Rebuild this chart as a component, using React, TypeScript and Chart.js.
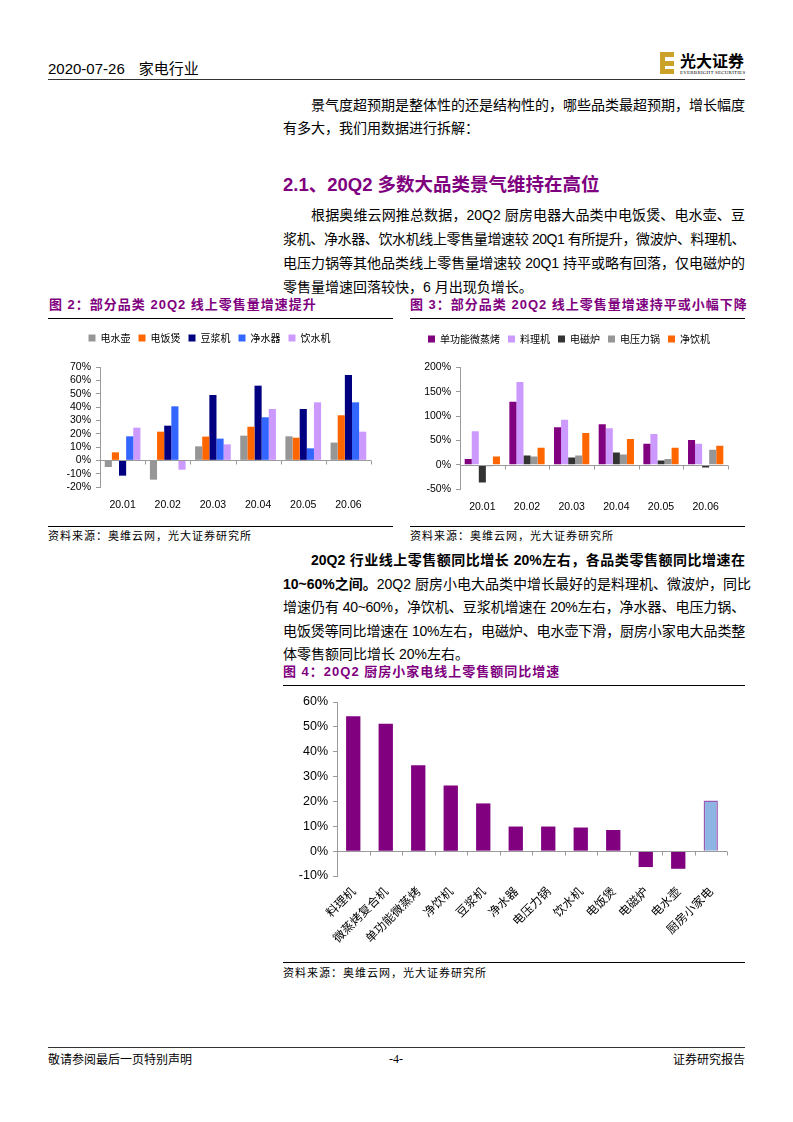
import React, { useEffect, useRef } from "react";
import { Chart, registerables } from "chart.js";

Chart.register(...registerables);
Chart.defaults.font.family = "'Liberation Sans', 'Noto Sans CJK SC', sans-serif";
Chart.defaults.color = "#000";

// ---------- Figure 2 data ----------
const months = ["20.01", "20.02", "20.03", "20.04", "20.05", "20.06"];
const fig2Names = ["电水壶", "电饭煲", "豆浆机", "净水器", "饮水机"];
const kettle = [-5, -14.5, 10.5, 18.5, 18, 13.3];
const riceCooker = [6, 21.5, 17.8, 25.2, 17, 33.8];
const soymilk = [-11.5, 26, 49, 56, 38.5, 64];
const purifier = [18, 40.5, 16.3, 32.3, 9, 43.5];
const dispenser = [24.5, -7, 12, 38.5, 43.5, 21.5];
const fig2Colors = ["#969696", "#FF6600", "#000080", "#3366FF", "#CC99FF"];
const fig2Ticks = [-20, -10, 0, 10, 20, 30, 40, 50, 60, 70];

// ---------- Figure 3 data ----------
const fig3Names = ["单功能微蒸烤", "料理机", "电磁炉", "电压力锅", "净饮机"];
const steamOven = [11.5, 129.5, 77, 83, 43, 51];
const blender = [69, 170, 92.5, 75, 63, 43];
const induction = [-36.5, 19, 15, 25, 8.8, -6];
const pressureCooker = [-3, 17, 19, 21, 11.5, 31];
const drinkMachine = [17, 35, 65, 53, 35, 39];
const fig3Colors = ["#800080", "#CC99FF", "#333333", "#969696", "#FF6600"];
const fig3Ticks = [-50, 0, 50, 100, 150, 200];

// ---------- Figure 4 data ----------
const fig4Categories = [
  "料理机", "微蒸烤复合机", "单功能微蒸烤", "净饮机", "豆浆机", "净水器",
  "电压力锅", "饮水机", "电饭煲", "电磁炉", "电水壶", "厨房小家电",
];
const fig4Values = [54.3, 51.3, 34.6, 26.4, 19.2, 9.9, 9.9, 9.5, 8.5, -6.4, -7.1, 20.4];
const fig4Ticks = [-10, 0, 10, 20, 30, 40, 50, 60];

const pct = (v: any) => `${v}%`;

const legendGap = (extra: number) => ({
  id: "legendGap",
  beforeInit(chart: any) {
    const lg = chart.legend;
    if (!lg) return;
    const orig = lg.fit;
    lg.fit = function () {
      orig.call(this);
      this.height += extra;
    };
  },
});

const zeroAxis = {
  id: "zeroAxis",
  afterDatasetsDraw(chart: any) {
    const xs = chart.scales.x;
    const ys = chart.scales.y;
    const ctx = chart.ctx;
    const y0 = Math.round(ys.getPixelForValue(0)) + 0.5;
    const n = chart.data.labels.length;
    ctx.save();
    ctx.strokeStyle = "#9a9a9a";
    ctx.lineWidth = 1;
    ctx.beginPath();
    ctx.moveTo(xs.left, y0);
    ctx.lineTo(xs.right, y0);
    for (let i = 0; i <= n; i++) {
      const px = Math.round(xs.left + ((xs.right - xs.left) * i) / n) + 0.5;
      ctx.moveTo(px, y0);
      ctx.lineTo(px, y0 + 4);
    }
    ctx.stroke();
    ctx.restore();
  },
};

function yAxis(ticks: number[], width: number, size: number) {
  return {
    min: ticks[0],
    max: ticks[ticks.length - 1],
    afterBuildTicks: (s: any) => {
      s.ticks = ticks.map((v) => ({ value: v }));
    },
    ticks: { callback: pct, color: "#000", font: { size }, padding: 5, autoSkip: false },
    grid: { drawOnChartArea: false, drawTicks: true, tickLength: 4, tickColor: "#9a9a9a" },
    border: { color: "#9a9a9a" },
    afterFit: (s: any) => {
      s.width = width;
    },
  };
}

function groupedConfig(
  names: string[],
  series: number[][],
  colors: string[],
  ticks: number[],
  yWidth: number,
  padRight: number,
  xHeight: number,
  padTop: number,
  gap: number
) {
  return {
    type: "bar",
    data: {
      labels: months,
      datasets: names.map((n, i) => ({
        label: n,
        data: series[i],
        backgroundColor: colors[i],
        borderWidth: 0,
        categoryPercentage: 0.79,
        barPercentage: 1,
      })),
    },
    options: {
      animation: false,
      responsive: false,
      devicePixelRatio: 1,
      layout: { padding: { left: 0, right: padRight, top: padTop, bottom: 0 } },
      plugins: {
        legend: {
          position: "top",
          labels: {
            boxWidth: 7,
            boxHeight: 7,
            padding: 8,
            color: "#000",
            font: { size: 10, family: "'Noto Sans CJK SC', sans-serif" },
          },
        },
        tooltip: { enabled: false },
      },
      scales: {
        x: {
          grid: { display: false, drawTicks: false },
          border: { display: false },
          ticks: { padding: 12, color: "#000", font: { size: 10.5 } },
          afterFit: (s: any) => {
            s.height = xHeight;
          },
        },
        y: yAxis(ticks, yWidth, 10.5),
      },
    },
    plugins: [legendGap(gap), zeroAxis],
  };
}

function fig4Config() {
  return {
    type: "bar",
    data: {
      labels: fig4Categories,
      datasets: [
        {
          label: "同比增速",
          data: fig4Values,
          backgroundColor: fig4Values.map((_, i) => (i === fig4Values.length - 1 ? "#8DB4E2" : "#800080")),
          borderColor: fig4Values.map((_, i) => (i === fig4Values.length - 1 ? "#9B59B6" : "#800080")),
          borderWidth: fig4Values.map((_, i) => (i === fig4Values.length - 1 ? 1.5 : 0)),
          categoryPercentage: 1,
          barPercentage: 0.44,
        },
      ],
    },
    options: {
      animation: false,
      responsive: false,
      devicePixelRatio: 1,
      layout: { padding: { left: 0, right: 18, top: 14, bottom: 0 } },
      plugins: { legend: { display: false }, tooltip: { enabled: false } },
      scales: {
        x: {
          grid: { display: false, drawTicks: false },
          border: { display: false },
          ticks: {
            padding: 8,
            color: "#000",
            autoSkip: false,
            minRotation: 45,
            maxRotation: 45,
            font: { size: 12, family: "'Noto Sans CJK SC', sans-serif" },
          },
          afterFit: (s: any) => {
            s.height = 84;
          },
        },
        y: yAxis(fig4Ticks, 54, 12.5),
      },
    },
    plugins: [zeroAxis],
  };
}

function ChartBox({ left, top, width, height, make }: any) {
  const ref = useRef<HTMLCanvasElement>(null);
  useEffect(() => {
    const chart = new Chart(ref.current as HTMLCanvasElement, make());
    return () => chart.destroy();
  }, []);
  return (
    <canvas
      ref={ref}
      width={width}
      height={height}
      style={{ position: "absolute", left, top, width, height }}
    />
  );
}

const BODY = "'Liberation Sans', 'Noto Sans CJK SC', sans-serif";

function TextLine({ y, x = 283, w = 462, indent = 0, justify = true, size = 14, lh = 22, ls = 0, children, style }: any) {
  return (
    <div
      style={{
        position: "absolute",
        left: x,
        top: y - lh / 2,
        width: w,
        height: lh,
        lineHeight: `${lh}px`,
        fontSize: size,
        fontFamily: BODY,
        color: "#000",
        whiteSpace: "nowrap",
        paddingLeft: indent,
        boxSizing: "border-box",
        letterSpacing: ls,
        textAlign: justify ? "justify" : "left",
        textAlignLast: justify ? "justify" : "left",
        ...style,
      }}
    >
      {children}
    </div>
  );
}

function HLine({ x, y, w, color = "#000", h = 1 }: any) {
  return <div style={{ position: "absolute", left: x, top: y, width: w, height: h, background: color }} />;
}

const PURPLE = "#7F007F";

function FigTitle({ x, y, children }: any) {
  return (
    <div
      style={{
        position: "absolute",
        left: x,
        top: y - 9,
        height: 18,
        lineHeight: "18px",
        fontSize: 13,
        letterSpacing: 1,
        fontWeight: 700,
        color: PURPLE,
        fontFamily: BODY,
        whiteSpace: "nowrap",
      }}
    >
      {children}
    </div>
  );
}

function Source({ x, y }: any) {
  return (
    <div
      style={{
        position: "absolute",
        left: x,
        top: y - 8,
        height: 16,
        lineHeight: "16px",
        fontSize: 11,
        letterSpacing: 1,
        color: "#000",
        fontFamily: "'Noto Sans CJK SC', sans-serif",
        whiteSpace: "nowrap",
      }}
    >
      资料来源：奥维云网，光大证券研究所
    </div>
  );
}

export default function App() {
  return (
    <div
      style={{
        position: "absolute",
        left: 0,
        top: 0,
        width: 793,
        height: 1122,
        background: "#fff",
        overflow: "hidden",
        fontFamily: BODY,
      }}
    >
      {/* Header */}
      <div style={{ position: "absolute", left: 48, top: 59, fontSize: 15, lineHeight: "20px", whiteSpace: "nowrap", color: "#000" }}>
        2020-07-26<span style={{ display: "inline-block", width: 14 }} />家电行业
      </div>
      {/* Logo */}
      <div style={{ position: "absolute", left: 660, top: 52, width: 14, height: 22 }}>
        <div style={{ position: "absolute", left: 0, top: 0, width: 5, height: 22, background: "#C9A227" }} />
        <div style={{ position: "absolute", left: 5, top: 0, width: 9, height: 5, background: "#C9A227" }} />
        <div style={{ position: "absolute", left: 5, top: 8.5, width: 9, height: 5, background: "#C9A227" }} />
        <div style={{ position: "absolute", left: 5, top: 17, width: 9, height: 5, background: "#C9A227" }} />
      </div>
      <div style={{ position: "absolute", left: 680, top: 51, fontSize: 16, fontWeight: 700, lineHeight: "18px", fontFamily: "'Noto Sans CJK SC', sans-serif", whiteSpace: "nowrap", letterSpacing: 0 }}>
        光大证券
      </div>
      <div style={{ position: "absolute", left: 680, top: 70, fontSize: 5, lineHeight: "6px", fontFamily: "'Liberation Serif', serif", whiteSpace: "nowrap", letterSpacing: 0.2 }}>
        EVERBRIGHT SECURITIES
      </div>
      <HLine x={48} y={79} w={697} color="#333" />

      {/* Paragraph 1 */}
      <TextLine y={105} indent={28}>景气度超预期是整体性的还是结构性的，哪些品类最超预期，增长幅度</TextLine>
      <TextLine y={128} justify={false}>有多大，我们用数据进行拆解：</TextLine>

      {/* Heading */}
      <div style={{ position: "absolute", left: 283, top: 172, fontSize: 18.5, fontWeight: 700, lineHeight: "26px", color: PURPLE, whiteSpace: "nowrap", fontFamily: BODY }}>
        2.1、20Q2 多数大品类景气维持在高位
      </div>

      {/* Paragraph 2 */}
      <TextLine y={215} indent={28}>根据奥维云网推总数据，20Q2 厨房电器大品类中电饭煲、电水壶、豆</TextLine>
      <TextLine y={239} ls={-0.45}>浆机、净水器、饮水机线上零售量增速较 20Q1 有所提升，微波炉、料理机、</TextLine>
      <TextLine y={263} ls={-0.1}>电压力锅等其他品类线上零售量增速较 20Q1 持平或略有回落，仅电磁炉的</TextLine>
      <TextLine y={287} justify={false}>零售量增速回落较快，6 月出现负增长。</TextLine>

      {/* Figure 2 & 3 titles */}
      <FigTitle x={49} y={305}>图 2：部分品类 20Q2 线上零售量增速提升</FigTitle>
      <FigTitle x={410} y={305}>图 3：部分品类 20Q2 线上零售量增速持平或小幅下降</FigTitle>
      <HLine x={48} y={318} w={345} />
      <HLine x={410} y={318} w={335} />

      <ChartBox
        left={48}
        top={322}
        width={345}
        height={200}
        make={() =>
          groupedConfig(fig2Names, [kettle, riceCooker, soymilk, purifier, dispenser], fig2Colors, fig2Ticks, 52, 22, 35, 3, 14)
        }
      />
      <ChartBox
        left={410}
        top={322}
        width={335}
        height={200}
        make={() =>
          groupedConfig(fig3Names, [steamOven, blender, induction, pressureCooker, drinkMachine], fig3Colors, fig3Ticks, 50, 17, 33, 4, 13.5)
        }
      />

      <HLine x={48} y={526} w={345} />
      <HLine x={410} y={526} w={335} />
      <Source x={48} y={535} />
      <Source x={410} y={535} />

      {/* Paragraph 3 */}
      <TextLine y={560} indent={28} style={{ fontWeight: 700 }}>20Q2 行业线上零售额同比增长 20%左右，各品类零售额同比增速在</TextLine>
      <TextLine y={584}>
        <b>10~60%之间。</b>20Q2 厨房小电大品类中增长最好的是料理机、微波炉，同比
      </TextLine>
      <TextLine y={607} ls={-0.3}>增速仍有 40~60%，净饮机、豆浆机增速在 20%左右，净水器、电压力锅、</TextLine>
      <TextLine y={631} ls={-0.3}>电饭煲等同比增速在 10%左右，电磁炉、电水壶下滑，厨房小家电大品类整</TextLine>
      <TextLine y={654} justify={false}>体零售额同比增长 20%左右。</TextLine>

      {/* Figure 4 */}
      <FigTitle x={283} y={672}>图 4：20Q2 厨房小家电线上零售额同比增速</FigTitle>
      <HLine x={283} y={685} w={462} />
      <ChartBox left={283} top={688} width={462} height={272} make={fig4Config} />
      <HLine x={283} y={962} w={462} />
      <Source x={283} y={972} />

      {/* Footer */}
      <HLine x={48} y={1047} w={697} color="#333" />
      <div style={{ position: "absolute", left: 48, top: 1050, fontSize: 12, lineHeight: "18px", whiteSpace: "nowrap", fontFamily: "'Noto Sans CJK SC', sans-serif" }}>
        敬请参阅最后一页特别声明
      </div>
      <div style={{ position: "absolute", left: 346, width: 100, textAlign: "center", top: 1050, fontSize: 12, lineHeight: "18px", fontFamily: "'Liberation Serif', serif" }}>
        -4-
      </div>
      <div style={{ position: "absolute", right: 48, top: 1050, fontSize: 12, lineHeight: "18px", whiteSpace: "nowrap", fontFamily: "'Noto Sans CJK SC', sans-serif" }}>
        证券研究报告
      </div>
    </div>
  );
}
